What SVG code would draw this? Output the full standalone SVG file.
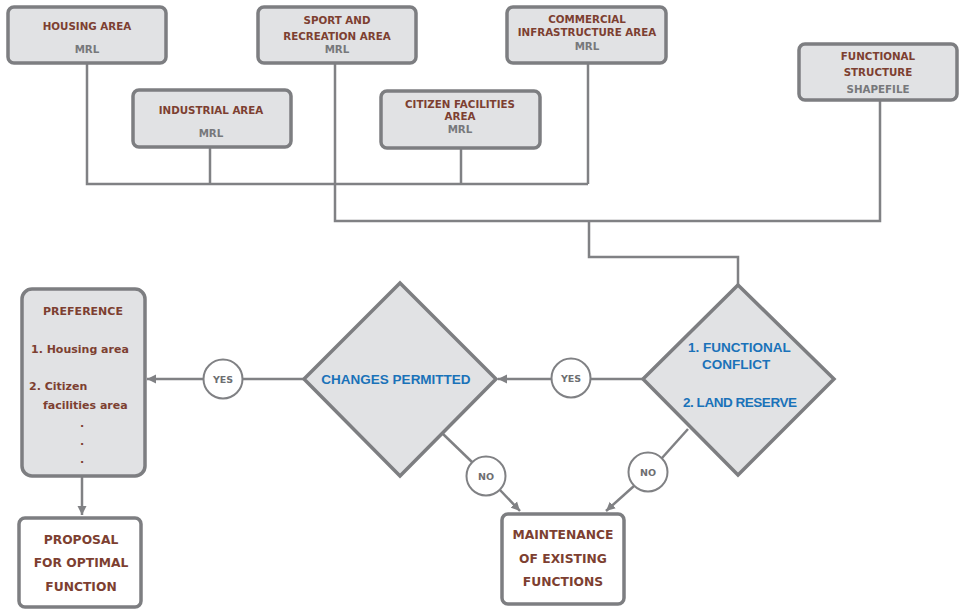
<svg xmlns="http://www.w3.org/2000/svg" width="959" height="610" viewBox="0 0 959 610">
<style>
.box{fill:#e1e2e4;stroke:#7d7e81;stroke-width:3.5}
.wbox{fill:#ffffff;stroke:#7d7e81;stroke-width:3.5}
.dia{fill:#e1e2e4;stroke:#7d7e81;stroke-width:3.5}
.ln{fill:none;stroke:#808184;stroke-width:2.5}
.cir{fill:#ffffff;stroke:#808184;stroke-width:2}
.t{font-family:"DejaVu Sans","Verdana",sans-serif;font-weight:bold;font-size:10.3px;fill:#7d3f31;text-anchor:middle}
.g{font-family:"DejaVu Sans","Verdana",sans-serif;font-weight:bold;font-size:10.3px;fill:#77787b;text-anchor:middle}
.b{font-family:"Liberation Sans","Arial",sans-serif;font-weight:bold;font-size:13.5px;fill:#1a72b9}
.c{font-family:"DejaVu Sans","Verdana",sans-serif;font-weight:bold;font-size:9.5px;fill:#6d6e71;text-anchor:middle}
.p{font-family:"DejaVu Sans","Verdana",sans-serif;font-weight:bold;font-size:11px;fill:#7d3f31}
.m{font-family:"DejaVu Sans","Verdana",sans-serif;font-weight:bold;font-size:12.3px;fill:#7d3f31;text-anchor:middle}
</style>
<defs>
<marker id="arr" markerWidth="10" markerHeight="10" refX="9" refY="5" orient="auto" markerUnits="userSpaceOnUse">
<path d="M0,0.5 L9,5 L0,9.5 Z" fill="#808184"/>
</marker>
</defs>

<g id="connectors">
<polyline class="ln" points="87,63 87,184 588,184"/>
<line class="ln" x1="210" y1="147" x2="210" y2="184"/>
<line class="ln" x1="461" y1="148" x2="461" y2="184"/>
<line class="ln" x1="588" y1="63" x2="588" y2="184"/>
<polyline class="ln" points="335,63 335,221 880,221 880,100"/>
<polyline class="ln" points="589,221 589,257 738,257 738,285"/>
<line class="ln" x1="643" y1="379" x2="591" y2="379"/>
<line class="ln" x1="551" y1="379" x2="498" y2="379" marker-end="url(#arr)"/>
<line class="ln" x1="304" y1="379" x2="243" y2="379"/>
<line class="ln" x1="203" y1="379" x2="147" y2="379" marker-end="url(#arr)"/>
<line class="ln" x1="82" y1="477" x2="82" y2="515" marker-end="url(#arr)"/>
<line class="ln" x1="443" y1="434" x2="472" y2="462"/>
<line class="ln" x1="500" y1="490" x2="520" y2="511" marker-end="url(#arr)"/>
<line class="ln" x1="688" y1="429" x2="662" y2="458"/>
<line class="ln" x1="634" y1="486" x2="606" y2="511" marker-end="url(#arr)"/>
</g>

<g id="housing">
<rect class="box" x="8" y="7" width="158" height="56" rx="6"/>
<text class="t" x="87" y="30">HOUSING AREA</text>
<text class="g" x="87" y="53">MRL</text>
</g>
<g id="industrial">
<rect class="box" x="133" y="90" width="158" height="57" rx="6"/>
<text class="t" x="211" y="114">INDUSTRIAL AREA</text>
<text class="g" x="211" y="137">MRL</text>
</g>
<g id="sport">
<rect class="box" x="258" y="7" width="158" height="56" rx="6"/>
<text class="t" x="337" y="24">SPORT AND</text>
<text class="t" x="337" y="40">RECREATION AREA</text>
<text class="g" x="337" y="53">MRL</text>
</g>
<g id="citizen">
<rect class="box" x="381" y="91" width="159" height="57" rx="6"/>
<text class="t" x="460" y="108">CITIZEN FACILITIES</text>
<text class="t" x="460" y="120">AREA</text>
<text class="g" x="460" y="133">MRL</text>
</g>
<g id="commercial">
<rect class="box" x="507" y="7" width="159" height="56" rx="6"/>
<text class="t" x="587" y="23">COMMERCIAL</text>
<text class="t" x="587" y="36" font-size="10">INFRASTRUCTURE AREA</text>
<text class="g" x="587" y="50">MRL</text>
</g>
<g id="functional">
<rect class="box" x="799" y="44" width="158" height="56" rx="6"/>
<text class="t" x="878" y="60">FUNCTIONAL</text>
<text class="t" x="878" y="76">STRUCTURE</text>
<text class="g" x="878" y="93">SHAPEFILE</text>
</g>

<g id="conflict">
<polygon class="dia" points="738,285 834,379 738,475 643,379"/>
<text class="b" x="688" y="352">1. FUNCTIONAL</text>
<text class="b" x="702" y="369">CONFLICT</text>
<text class="b" x="683" y="407" textLength="114">2. LAND RESERVE</text>
</g>
<g id="changes">
<polygon class="dia" points="400,283 496,379 400,476 304,379"/>
<text class="b" x="396" y="384" text-anchor="middle" font-size="14.3">CHANGES PERMITTED</text>
</g>

<g id="yes1">
<circle class="cir" cx="571" cy="378" r="19.5"/>
<text class="c" x="571" y="382">YES</text>
</g>
<g id="yes2">
<circle class="cir" cx="223" cy="379" r="19.5"/>
<text class="c" x="223" y="383">YES</text>
</g>
<g id="no1">
<circle class="cir" cx="486" cy="476" r="19.5"/>
<text class="c" x="486" y="480">NO</text>
</g>
<g id="no2">
<circle class="cir" cx="648" cy="472" r="19.5"/>
<text class="c" x="648" y="476">NO</text>
</g>

<g id="preference">
<rect class="box" x="22" y="289" width="123" height="187" rx="10"/>
<text class="p" x="83" y="315" text-anchor="middle" font-size="12">PREFERENCE</text>
<text class="p" x="31" y="353">1. Housing area</text>
<text class="p" x="29" y="390">2. Citizen</text>
<text class="p" x="43" y="409">facilities area</text>
<text class="p" x="82" y="427" text-anchor="middle">.</text>
<text class="p" x="82" y="445" text-anchor="middle">.</text>
<text class="p" x="82" y="463" text-anchor="middle">.</text>
</g>
<g id="proposal">
<rect class="wbox" x="19" y="518" width="122" height="89" rx="6"/>
<text class="m" x="81" y="544">PROPOSAL</text>
<text class="m" x="81" y="567">FOR OPTIMAL</text>
<text class="m" x="81" y="591">FUNCTION</text>
</g>
<g id="maintenance">
<rect class="wbox" x="502" y="514" width="122" height="90" rx="6"/>
<text class="m" x="563" y="539">MAINTENANCE</text>
<text class="m" x="563" y="563">OF EXISTING</text>
<text class="m" x="563" y="586">FUNCTIONS</text>
</g>
</svg>
